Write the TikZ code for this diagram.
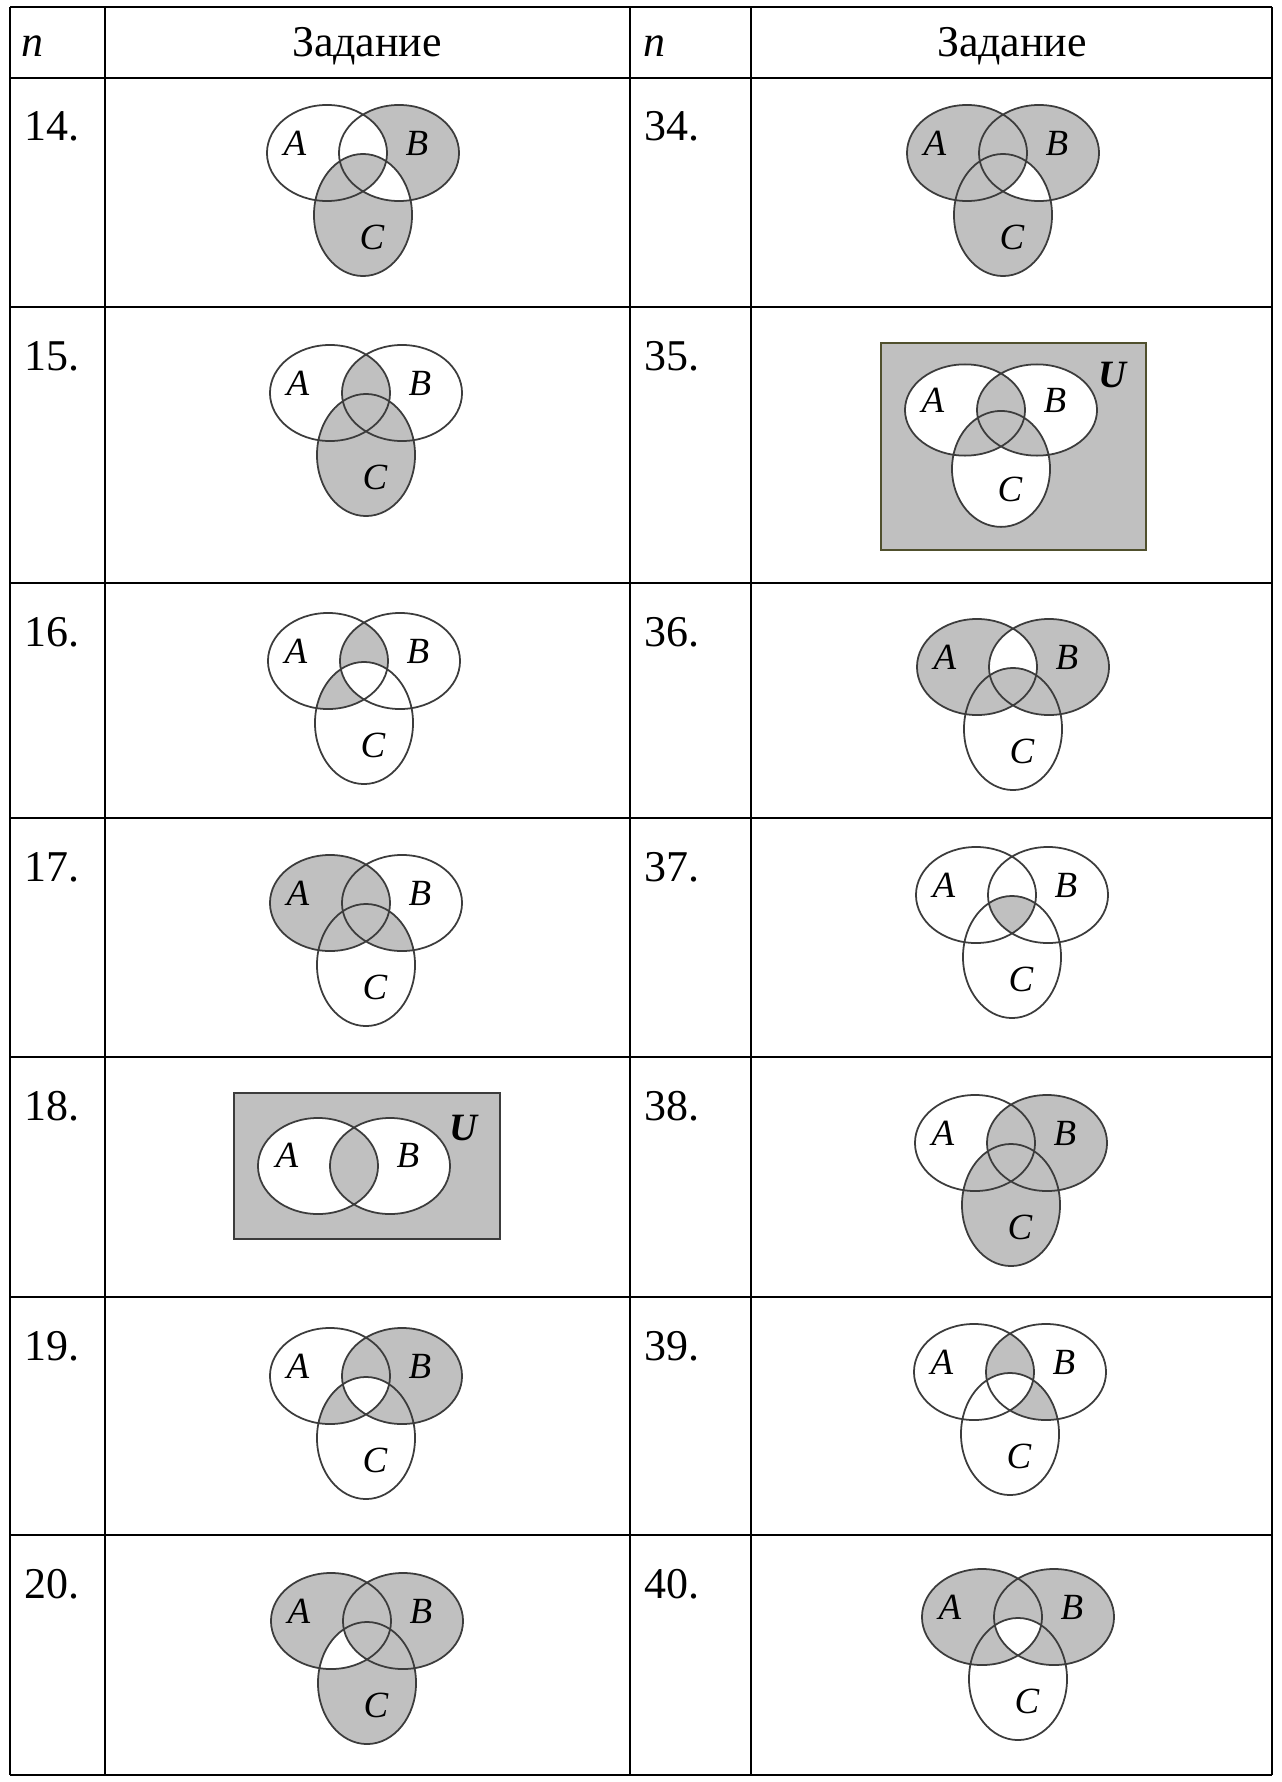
\documentclass[tikz,border=0pt]{standalone}
\usepackage{fontspec}
\setmainfont{Liberation Serif}
\definecolor{vgray}{RGB}{192,192,192}
\definecolor{vedge}{RGB}{60,60,60}
\definecolor{uedge}{RGB}{80,80,45}
\newcommand{\vA}{(-36,0) ellipse [x radius=6mm, y radius=4.8mm]}
\newcommand{\vB}{(36,0) ellipse [x radius=6mm, y radius=4.8mm]}
\newcommand{\vC}{(0,62) ellipse [x radius=4.9mm, y radius=6.1mm]}
\newcommand{\vlines}{\draw[vline] \vA \vB \vC;}
\newcommand{\vlabels}[1]{%
  \node[vlab] (a#1) at (-68,-10) {A};
  \node[vlab] (b#1) at (54,-10) {B};
  \node[vlab] (c#1) at (9,84) {C};}
\begin{document}
\begin{tikzpicture}[x=0.01cm,y=-0.01cm,
    hrule/.style={line width=0.75pt},
    vrule/.style={line width=0.6pt},
    vshade/.style={fill=vgray},
    vline/.style={draw=vedge,line width=0.5pt},
    vlab/.style={inner sep=0pt,font=\fontsize{10.5}{12}\selectfont\itshape},
    ulab/.style={inner sep=0pt,font=\fontsize{11}{13}\selectfont\bfseries\itshape},
    hd/.style={inner sep=0pt,anchor=base,font=\fontsize{12.5}{15}\selectfont},
    num/.style={inner sep=0pt,anchor=base west,font=\fontsize{12.5}{15}\selectfont}]
\useasboundingbox (0,0) rectangle (1282,1782);
\foreach \y in {7,78,307,583,818,1057,1297,1535,1775}
  \draw[hrule] (10,\y) -- (1272,\y);
\foreach \x in {10,105,630,751,1272}
  \draw[vrule] (\x,7) -- (\x,1775);
\node[hd,anchor=base west] (hn1) at (21,57) {\textit{n}};
\node[hd] (hz1) at (367,57) {Задание};
\node[hd,anchor=base west] (hn2) at (643,57) {\textit{n}};
\node[hd] (hz2) at (1012,57) {Задание};
\node[num] (n14) at (24,141) {14.};
\node[num] (n15) at (24,370) {15.};
\node[num] (n16) at (24,646) {16.};
\node[num] (n17) at (24,881) {17.};
\node[num] (n18) at (24,1120) {18.};
\node[num] (n19) at (24,1360) {19.};
\node[num] (n20) at (24,1598) {20.};
\node[num] (n34) at (644,141) {34.};
\node[num] (n35) at (644,370) {35.};
\node[num] (n36) at (644,646) {36.};
\node[num] (n37) at (644,881) {37.};
\node[num] (n38) at (644,1120) {38.};
\node[num] (n39) at (644,1360) {39.};
\node[num] (n40) at (644,1598) {40.};
\begin{scope}[shift={(363,153)}]
  \fill[vshade] \vB \vC;
  \begin{scope} \clip \vA; \clip \vB; \fill[white] \vA; \fill[vshade] \vC; \end{scope}
  \begin{scope} \clip \vB; \clip \vC; \fill[white] \vB; \fill[vshade] \vA; \end{scope}
  \vlines
  \vlabels{14}
\end{scope}
\begin{scope}[shift={(1003,153)}]
  \fill[vshade] \vA \vB \vC;
  \begin{scope} \clip \vB; \clip \vC; \fill[white] \vB; \fill[vshade] \vA; \end{scope}
  \vlines
  \vlabels{34}
\end{scope}
\begin{scope}[shift={(366,393)}]
  \fill[vshade] \vC;
  \begin{scope} \clip \vA; \fill[vshade] \vB; \end{scope}
  \vlines
  \vlabels{15}
\end{scope}
\begin{scope}[shift={(1001,410)}]
  \fill[vshade,draw=uedge,line width=0.6pt] (-120,-67) rectangle (145,140);
  \node[ulab] (u35) at (111,-35) {U};
  \begin{scope}[yscale=0.95]
    \fill[white] \vA \vB \vC;
    \begin{scope} \clip \vA; \fill[vshade] \vB \vC; \end{scope}
    \begin{scope} \clip \vB; \fill[vshade] \vC; \end{scope}
    \vlines
    \vlabels{35}
  \end{scope}
\end{scope}
\begin{scope}[shift={(364,661)}]
  \begin{scope} \clip \vA; \fill[vshade] \vB \vC;
    \begin{scope} \clip \vB; \clip \vC; \fill[white] \vB; \end{scope}
  \end{scope}
  \vlines
  \vlabels{16}
\end{scope}
\begin{scope}[shift={(1013,667)}]
  \fill[vshade] \vA \vB;
  \begin{scope} \clip \vA; \clip \vB; \fill[white] \vA; \fill[vshade] \vC; \end{scope}
  \vlines
  \vlabels{36}
\end{scope}
\begin{scope}[shift={(366,903)}]
  \fill[vshade] \vA;
  \begin{scope} \clip \vB; \fill[vshade] \vC; \end{scope}
  \vlines
  \vlabels{17}
\end{scope}
\begin{scope}[shift={(1012,895)}]
  \begin{scope} \clip \vA; \clip \vB; \fill[vshade] \vC; \end{scope}
  \vlines
  \vlabels{37}
\end{scope}
\begin{scope}[shift={(354,1166)}]
  \fill[vshade,draw=vedge,line width=0.6pt] (-120,-73) rectangle (146,73);
  \fill[white] \vA \vB;
  \begin{scope} \clip \vA; \fill[vshade] \vB; \end{scope}
  \draw[vline] \vA \vB;
  \node[vlab] (a18) at (-67,-11) {A};
  \node[vlab] (b18) at (54,-11) {B};
  \node[ulab] (u18) at (109,-38) {U};
\end{scope}
\begin{scope}[shift={(1011,1143)}]
  \fill[vshade] \vB \vC;
  \vlines
  \vlabels{38}
\end{scope}
\begin{scope}[shift={(366,1376)}]
  \fill[vshade] \vB;
  \begin{scope} \clip \vA; \clip \vC; \fill[vshade] \vA;
    \begin{scope} \clip \vB; \fill[white] \vB; \end{scope}
  \end{scope}
  \vlines
  \vlabels{19}
\end{scope}
\begin{scope}[shift={(1010,1372)}]
  \begin{scope} \clip \vB; \fill[vshade] \vA \vC;
    \begin{scope} \clip \vA; \clip \vC; \fill[white] \vA; \end{scope}
  \end{scope}
  \vlines
  \vlabels{39}
\end{scope}
\begin{scope}[shift={(367,1621)}]
  \fill[vshade] \vA \vB \vC;
  \begin{scope} \clip \vA; \clip \vC; \fill[white] \vA; \fill[vshade] \vB; \end{scope}
  \vlines
  \vlabels{20}
\end{scope}
\begin{scope}[shift={(1018,1617)}]
  \fill[vshade] \vA \vB;
  \begin{scope} \clip \vA; \clip \vB; \clip \vC; \fill[white] \vA; \end{scope}
  \vlines
  \vlabels{40}
\end{scope}
\end{tikzpicture}
\end{document}
